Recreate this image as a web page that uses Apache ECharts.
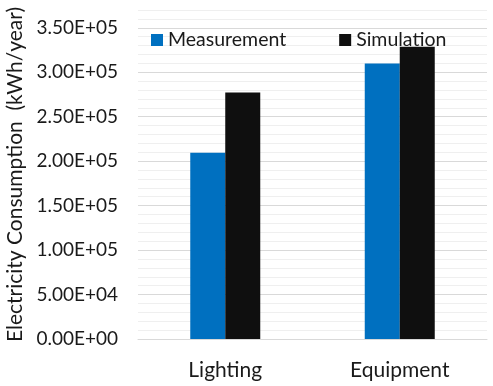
<!DOCTYPE html>
<html><head><meta charset="utf-8">
<script src="https://cdn.jsdelivr.net/npm/echarts@6/dist/echarts.min.js"></script>
<style>html,body{margin:0;padding:0;background:#fff}#c{width:493px;height:386px}</style>
</head><body><div id="c"></div>
<script>
const categories = ['Lighting', 'Equipment'];
const measurement = [209500, 309700];
const simulation = [277100, 328600];
const seriesNames = ['Measurement', 'Simulation'];
const yTitle = 'Electricity Consumption  (kWh/year)';

function fmt(v) {
  if (v % 50000 !== 0) return '';
  if (v === 0) return '0.00E+00';
  const e = Math.floor(Math.log10(v));
  const m = (v / Math.pow(10, e)).toFixed(2);
  return m + 'E+' + String(e).padStart(2, '0');
}
const font = 'Lato, "Open Sans", sans-serif';
const chart = echarts.init(document.getElementById('c'));
chart.setOption({
  animation: false,
  backgroundColor: '#fff',
  grid: {left: 138, right: 6, top: 10, bottom: 47, containLabel: false, outerBoundsMode: 'none'},
  legend: {
    top: 25, left: 146, itemWidth: 12, itemHeight: 12, itemGap: 53,
    icon: 'rect',
    textStyle: {fontFamily: font, fontSize: 19.5, color: '#1a1a1a'},
    data: seriesNames
  },
  xAxis: {
    type: 'category', data: categories,
    axisLine: {lineStyle: {color: '#d9d9d9'}},
    axisTick: {show: false},
    axisLabel: {fontFamily: font, fontSize: 21, color: '#1a1a1a', margin: 21}
  },
  yAxis: {
    type: 'value', min: 0, max: 370000, interval: 10000,
    name: yTitle, nameLocation: 'middle', nameGap: 105,
    nameTextStyle: {fontFamily: font, fontSize: 21, color: '#1a1a1a'},
    axisLine: {show: false}, axisTick: {show: false},
    axisLabel: {fontFamily: font, fontSize: 19, color: '#1a1a1a', margin: 20, formatter: fmt},
    splitLine: {lineStyle: {color: ['#d9d9d9', '#efefef', '#efefef', '#efefef', '#efefef'], width: 1}}
  },
  series: [
    {name: seriesNames[0], type: 'bar', data: measurement, barWidth: 35, barGap: '0%',
     itemStyle: {color: '#0070C0'}},
    {name: seriesNames[1], type: 'bar', data: simulation, barWidth: 35, barGap: '0%',
     itemStyle: {color: '#0F0F0F'}}
  ]
});
</script></body></html>
